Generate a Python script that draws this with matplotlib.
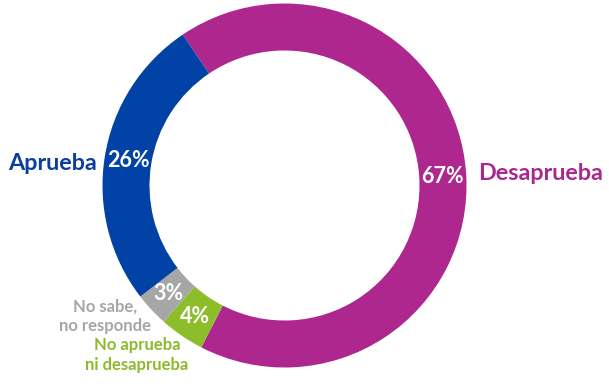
import matplotlib.pyplot as plt

categorias = ['Desaprueba', 'No aprueba\nni desaprueba', 'No sabe,\nno responde', 'Aprueba']
valores = [67, 4, 3, 26]
colores = ['#AE278E', '#8DBE2A', '#A6A6A6', '#0042A6']
colores_texto = ['#A8288E', '#8DBA2C', '#A6A6A6', '#0A3F9E']

plt.rcParams['font.family'] = ['Lato', 'DejaVu Sans']

fig = plt.figure(figsize=(6.09, 3.90), dpi=100)
ax = fig.add_axes([0, 0, 1, 1])
ax.axis('off')

cx, cy, r = 284.5, 204.5, 182
ax.pie(valores, colors=colores, startangle=124, counterclock=False,
       center=(cx, cy), radius=r, wedgeprops=dict(width=47, linewidth=0),
       autopct='%d%%', pctdistance=0.87,
       textprops=dict(color='white', fontsize=15.5, fontweight='bold'))
ax.set_xlim(0, 609)
ax.set_ylim(0, 390)
ax.set_aspect('equal')

# etiquetas de categoria
ax.text(97, 226, categorias[3], color=colores_texto[3], fontsize=16.8,
        fontweight='bold', ha='right', va='center')
ax.text(478, 216, categorias[0], color=colores_texto[0], fontsize=16.8,
        fontweight='bold', ha='left', va='center')
ax.text(105, 74, categorias[2], color=colores_texto[2], fontsize=12,
        fontweight='bold', ha='center', va='center', linespacing=1.25)
ax.text(137, 35, categorias[1], color=colores_texto[1], fontsize=12,
        fontweight='bold', ha='center', va='center', linespacing=1.25)

fig.savefig('out.png', dpi=100)
